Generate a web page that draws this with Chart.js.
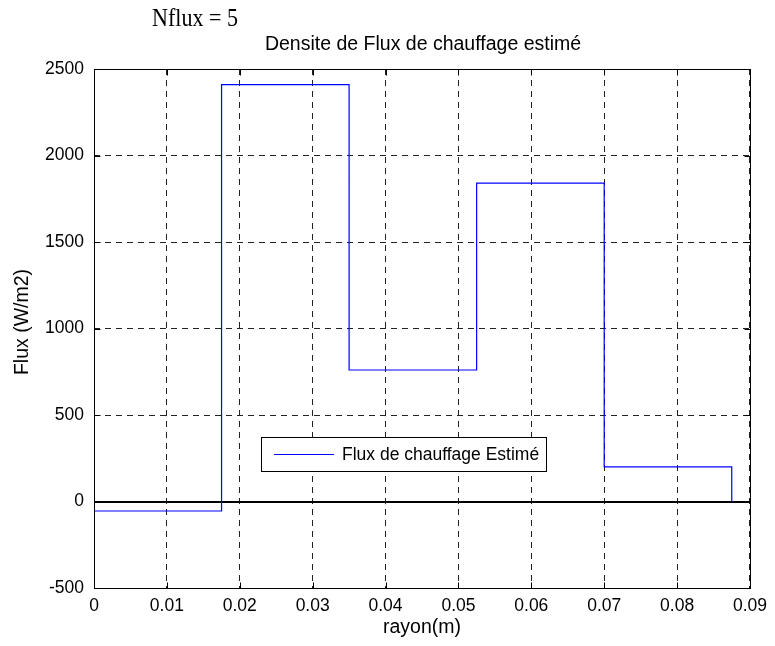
<!DOCTYPE html>
<html>
<head>
<meta charset="utf-8">
<script src="https://cdn.jsdelivr.net/npm/chart.js@4.4.1/dist/chart.umd.min.js"></script>
<style>
  html, body { margin: 0; padding: 0; background: #ffffff; }
  #wrap { width: 775px; height: 646px; position: relative; }
</style>
</head>
<body>
<div id="wrap"><canvas id="c" width="775" height="646"></canvas></div>
<script>
// Zone boundaries along the radius (m) and estimated flux in each zone (W/m2)
const zoneEdges = [0, 0.0175, 0.035, 0.0525, 0.07, 0.0875];
const zoneFlux = [-55, 2410, 760, 1840, 200];

// Axis ticks
const xTicks = [0, 0.01, 0.02, 0.03, 0.04, 0.05, 0.06, 0.07, 0.08, 0.09];
const yTicks = [-500, 0, 500, 1000, 1500, 2000, 2500];

const mainTitle = 'Nflux = 5';
const subTitle = 'Densite de Flux de chauffage estimé';
const xTitle = 'rayon(m)';
const yTitle = 'Flux (W/m2)';
const seriesName = 'Flux de chauffage Estimé';

// Piecewise-constant profile: starts and ends on the zero level
const profile = [{ x: zoneEdges[0], y: 0 }];
zoneFlux.forEach((v, i) => {
  profile.push({ x: zoneEdges[i], y: v });
  profile.push({ x: zoneEdges[i + 1], y: v });
});
profile.push({ x: zoneEdges[zoneEdges.length - 1], y: 0 });

const SANS = '"Liberation Sans", Arial, sans-serif';
const SERIF = '"Liberation Serif", "Times New Roman", serif';
const TICK_FONT = 17.5;
const LABEL_FONT = 19.5;

// Frame, inward ticks, zero line, titles and legend box
const decor = {
  id: 'decor',
  beforeDatasetsDraw(chart) {
    const { ctx, chartArea: a, scales: { y } } = chart;
    ctx.save();
    const y0 = Math.round(y.getPixelForValue(0));
    ctx.strokeStyle = '#000';
    ctx.lineWidth = 2;
    ctx.beginPath();
    ctx.moveTo(a.left, y0);
    ctx.lineTo(a.right, y0);
    ctx.stroke();
    ctx.restore();
  },
  afterDraw(chart) {
    const { ctx, chartArea: a, scales: { x, y } } = chart;
    ctx.save();
    ctx.strokeStyle = '#000';
    ctx.lineWidth = 1;
    const L = Math.round(a.left) + 0.5, R = Math.round(a.right) + 0.5;
    const T = Math.round(a.top) + 0.5, B = Math.round(a.bottom) + 0.5;
    ctx.strokeRect(L, T, R - L, B - T);
    const tl = 6;
    ctx.beginPath();
    xTicks.forEach(v => {
      const px = Math.round(x.getPixelForValue(v)) + 0.5;
      ctx.moveTo(px, B); ctx.lineTo(px, B - tl);
      ctx.moveTo(px, T); ctx.lineTo(px, T + tl);
    });
    yTicks.forEach(v => {
      const py = Math.round(y.getPixelForValue(v)) + 0.5;
      ctx.moveTo(L, py); ctx.lineTo(L + tl, py);
      ctx.moveTo(R, py); ctx.lineTo(R - tl, py);
    });
    ctx.stroke();

    // titles
    ctx.fillStyle = '#000';
    ctx.textAlign = 'center';
    ctx.textBaseline = 'middle';
    ctx.font = '24px ' + SERIF;
    ctx.save();
    ctx.translate(195, 19);
    ctx.scale(0.92, 1.05);
    ctx.fillText(mainTitle, 0, 0);
    ctx.restore();
    ctx.font = LABEL_FONT + 'px ' + SANS;
    ctx.fillText(subTitle, 423, 45);
    ctx.fillText(xTitle, (a.left + a.right) / 2, 628);
    ctx.save();
    ctx.translate(23, 322);
    ctx.rotate(-Math.PI / 2);
    ctx.fillText(yTitle, 0, 0);
    ctx.restore();

    // legend box
    const bx = 261.5, by = 437.5, bw = 285, bh = 34;
    ctx.fillStyle = '#fff';
    ctx.fillRect(bx, by, bw, bh);
    ctx.strokeStyle = '#000';
    ctx.lineWidth = 1;
    ctx.strokeRect(bx, by, bw, bh);
    ctx.strokeStyle = '#0000ff';
    ctx.beginPath();
    ctx.moveTo(274, 454.5);
    ctx.lineTo(334, 454.5);
    ctx.stroke();
    ctx.fillStyle = '#000';
    ctx.textAlign = 'left';
    ctx.font = TICK_FONT + 'px ' + SANS;
    ctx.fillText(seriesName, 342, 455);
    ctx.restore();
  }
};

new Chart(document.getElementById('c'), {
  type: 'scatter',
  data: {
    datasets: [{
      label: seriesName,
      data: profile,
      showLine: true,
      borderColor: '#0000ff',
      borderWidth: 1.2,
      pointRadius: 0,
      fill: false,
      tension: 0
    }]
  },
  options: {
    responsive: false,
    animation: false,
    devicePixelRatio: 1,
    layout: { padding: { left: 0, top: 69, right: 24, bottom: 0 } },
    plugins: {
      legend: { display: false },
      title: { display: false },
      tooltip: { enabled: false }
    },
    scales: {
      x: {
        type: 'linear',
        min: 0,
        max: 0.09,
        afterFit(s) { s.height = 58; },
        afterBuildTicks(s) { s.ticks = xTicks.map(v => ({ value: v })); },
        ticks: {
          color: '#000',
          font: { family: SANS, size: TICK_FONT },
          padding: 8,
          maxRotation: 0,
          autoSkip: false,
          callback: v => String(Number(v.toFixed(2)))
        },
        grid: { color: '#222', lineWidth: 1, drawTicks: false },
        border: { display: false, dash: [6, 5] }
      },
      y: {
        type: 'linear',
        min: -500,
        max: 2500,
        afterFit(s) { s.width = 94; },
        afterBuildTicks(s) { s.ticks = yTicks.map(v => ({ value: v })); },
        ticks: {
          color: '#000',
          font: { family: SANS, size: TICK_FONT },
          padding: 10,
          autoSkip: false,
          callback: v => String(v)
        },
        grid: { color: '#222', lineWidth: 1, drawTicks: false },
        border: { display: false, dash: [6, 5] }
      }
    }
  },
  plugins: [decor]
});
</script>
</body>
</html>
